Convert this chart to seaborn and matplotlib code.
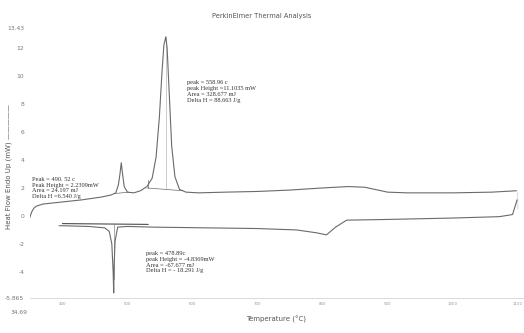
import matplotlib
matplotlib.use("Agg")
import matplotlib.pyplot as plt
import seaborn as sns
import pandas as pd

# heating run (endo up), temperature in C and heat flow in mW
heat_T = [350, 351, 353, 356, 360, 370, 400, 430, 460, 475, 482, 486, 488.5, 490.5, 492.5, 495, 500,
          510, 520, 530, 538, 544, 549, 553, 556, 558.96, 561, 564, 568, 573, 580, 590, 610,
          650, 700, 750, 800, 840, 865, 885, 900, 930, 1000, 1060, 1098]
heat_mW = [-0.1, 0.05, 0.3, 0.55, 0.7, 0.85, 1.0, 1.15, 1.35, 1.5, 1.65, 2.2, 3.0, 3.8, 3.0, 2.1, 1.7,
           1.65, 1.8, 2.1, 2.7, 4.2, 7.0, 10.2, 12.2, 12.8, 12.0, 9.0, 5.0, 2.8, 1.9, 1.7, 1.65,
           1.7, 1.75, 1.85, 2.0, 2.1, 2.05, 1.85, 1.7, 1.65, 1.65, 1.7, 1.8]
# cooling run coming back from the right side
cool_T = [1099, 1099, 1092, 1072, 1000, 900, 837, 820, 806, 790, 760, 700, 620, 540, 500, 485,
          481, 479.5, 478.89, 478, 476, 472, 465, 440, 400, 395]
cool_mW = [1.8, 0.5, 0.1, -0.05, -0.15, -0.25, -0.3, -0.8, -1.35, -1.2, -1.0, -0.9, -0.85, -0.8, -0.75, -0.8,
           -1.8, -3.5, -5.5, -4.0, -2.0, -1.1, -0.85, -0.75, -0.7, -0.7]

yticks = [-5.865, -4, -2, 0, 2, 4, 6, 8, 10, 12, 13.43]
ytick_labels = ["-5.865", "-4", "-2", "0", "2", "4", "6", "8", "10", "12", "13.43"]
xticks = [400, 500, 600, 700, 800, 900, 1000, 1100]
xtick_labels = ["400", "500", "600", "700", "800", "900", "1000", "1100"]

notes = [
    (592, 9.7, "peak = 558.96 c\npeak Height =11.1035 mW\nArea = 328.677 mJ\nDelta H = 88.663 J/g"),
    (353, 2.8, "Peak = 490. 52 c\nPeak Height = 2.2309mW\nArea = 24.197 mJ\nDelta H =6.540 J/g"),
    (528, -2.5, "peak = 478.89c\npeak Height = -4.8369mW\nArea = -67.677 mJ\nDelta H = - 18.291 J/g"),
]

sns.set_style("white")
fig = plt.figure(figsize=(5.24, 3.33), dpi=100)
ax = fig.add_axes([0.057, 0.105, 0.941, 0.811])

line_col = "#6a6a6a"
heat = pd.DataFrame({"T": heat_T, "mW": heat_mW})
cool = pd.DataFrame({"T": cool_T, "mW": cool_mW})
sns.lineplot(data=heat, x="T", y="mW", sort=False, color=line_col, lw=0.8, ax=ax)
sns.lineplot(data=cool, x="T", y="mW", sort=False, color=line_col, lw=0.8, ax=ax)

# integration baselines and peak drop lines
ax.plot([480, 502], [1.6, 1.7], color=line_col, lw=0.5)
ax.plot([530, 585], [2.0, 1.8], color=line_col, lw=0.5)
ax.plot([532, 532], [2.0, 2.6], color=line_col, lw=0.5)
ax.plot([558.96, 558.96], [1.9, 12.8], color=line_col, lw=0.4, alpha=0.6)
ax.plot([400, 532], [-0.55, -0.6], color="#333333", lw=0.7)
ax.plot([478.89, 478.89], [-0.6, -4.5], color=line_col, lw=0.4)

for x, y, txt in notes:
    ax.text(x, y, txt, fontsize=4.6, family="Liberation Serif", color="#333333",
            va="top", ha="left", linespacing=1.2)

ax.set_xlim(350, 1108)
ax.set_ylim(-5.865, 13.43)
ax.set_yticks(yticks)
ax.set_yticklabels(ytick_labels)
ax.set_xticks(xticks)
ax.set_xticklabels(xtick_labels)
ax.tick_params(axis="y", labelsize=4.3, colors="#777777", length=2, width=0.4, pad=2)
ax.tick_params(axis="x", labelsize=2.8, colors="#999999", length=0, pad=3)
ax.text(346, -6.7, "34.69", fontsize=4.3, color="#777777", ha="right", va="top")

for s in ax.spines.values():
    s.set_visible(False)
ax.spines["bottom"].set_visible(True)
ax.spines["bottom"].set_color("#cccccc")
ax.spines["bottom"].set_linewidth(0.5)

ax.set_xlabel("Temperature (\u00b0C)", fontsize=5, color="#555555", labelpad=7)
ax.set_ylabel("")
fig.text(0.017, 0.5, "Heat Flow Endo Up (mW) \u2014\u2014\u2014\u2014\u2014", fontsize=5,
         color="#555555", rotation=90, ha="center", va="center")
fig.text(0.5, 0.945, "PerkinElmer Thermal Analysis", fontsize=4.8, color="#555555", ha="center")

fig.savefig("out.png", dpi=100)
